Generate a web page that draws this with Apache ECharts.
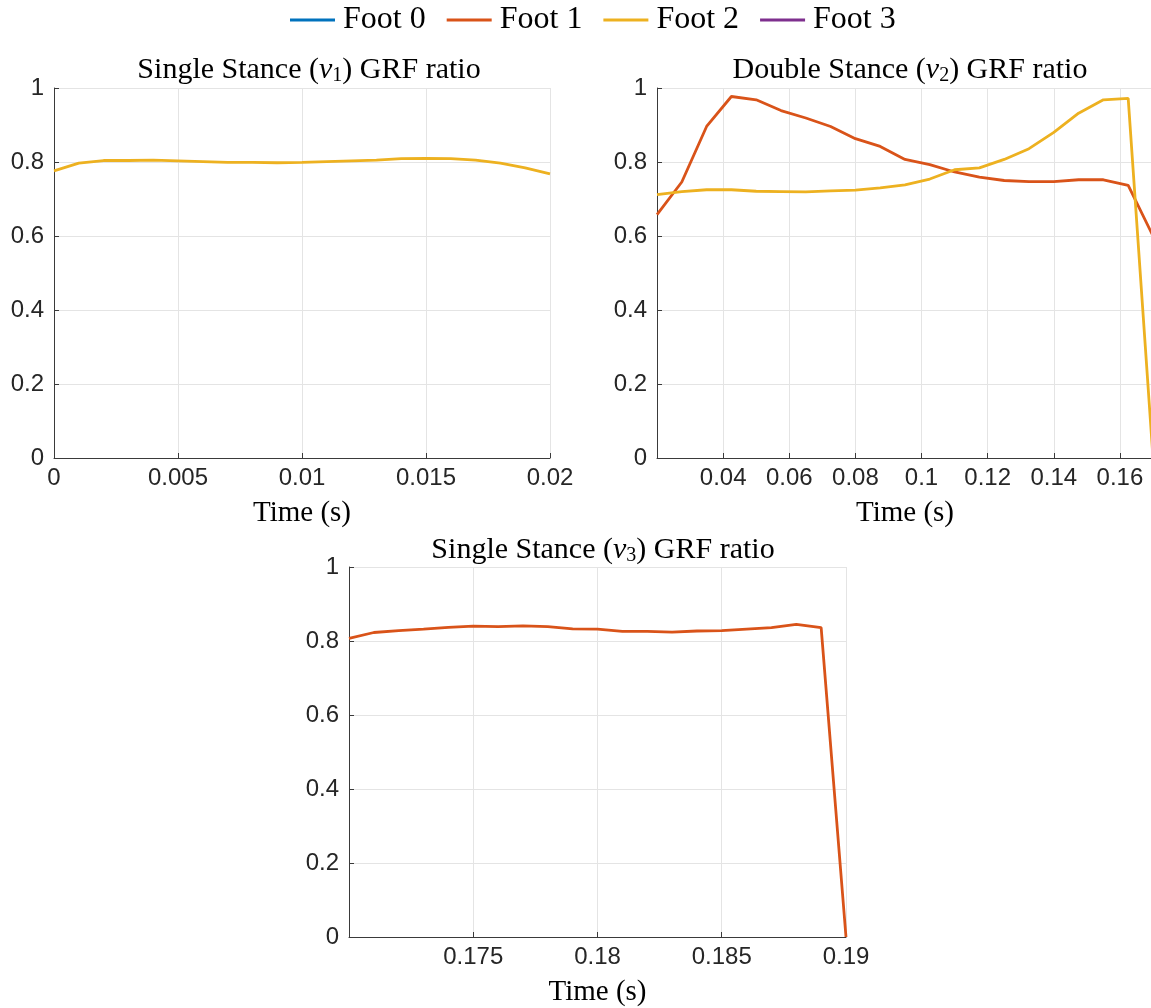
<!DOCTYPE html>
<html>
<head>
<meta charset="utf-8">
<script src="https://cdn.jsdelivr.net/npm/echarts@6/dist/echarts.min.js"></script>
<style>
  html, body { margin: 0; padding: 0; background: #fff; }
  #chart { width: 1151px; height: 1008px; }
</style>
</head>
<body>
<div id="chart"></div>
<script>
// ---- data ----
const footNames = ['Foot 0', 'Foot 1', 'Foot 2', 'Foot 3'];
const footColors = ['#0072BD', '#D95319', '#EDB120', '#7E2F8E'];

// Single stance v1
const timeV1 = [0, 0.001, 0.002, 0.003, 0.004, 0.005, 0.006, 0.007, 0.008, 0.009, 0.010,
                0.011, 0.012, 0.013, 0.014, 0.015, 0.016, 0.017, 0.018, 0.019, 0.020];
const foot2V1 = [0.776, 0.797, 0.804, 0.804, 0.805, 0.803, 0.801, 0.799, 0.799, 0.798, 0.799,
                 0.801, 0.803, 0.805, 0.809, 0.810, 0.809, 0.805, 0.797, 0.784, 0.768];

// Double stance v2
const timeV2 = [0.02, 0.0275, 0.035, 0.0425, 0.05, 0.0575, 0.065, 0.0725, 0.08, 0.0875, 0.095,
                0.1025, 0.11, 0.1175, 0.125, 0.1325, 0.14, 0.1475, 0.155, 0.1625, 0.17];
const foot1V2 = [0.658, 0.746, 0.896, 0.977, 0.968, 0.939, 0.919, 0.896, 0.863, 0.842, 0.807,
                 0.793, 0.773, 0.759, 0.750, 0.747, 0.747, 0.752, 0.752, 0.737, 0.600];
const foot2V2 = [0.712, 0.720, 0.725, 0.725, 0.721, 0.720, 0.719, 0.722, 0.724, 0.730, 0.738,
                 0.754, 0.779, 0.784, 0.807, 0.836, 0.880, 0.932, 0.968, 0.972, 0.000];

// Single stance v3
const timeV3 = [0.170, 0.171, 0.172, 0.173, 0.174, 0.175, 0.176, 0.177, 0.178, 0.179, 0.180,
                0.181, 0.182, 0.183, 0.184, 0.185, 0.186, 0.187, 0.188, 0.189, 0.190];
const foot1V3 = [0.807, 0.823, 0.828, 0.832, 0.837, 0.840, 0.839, 0.841, 0.839, 0.833, 0.832,
                 0.826, 0.826, 0.824, 0.827, 0.828, 0.832, 0.836, 0.845, 0.836, 0.000];

const yTicks = [0, 0.2, 0.4, 0.6, 0.8, 1];

// ---- styling helpers ----
const SERIF = '"Liberation Serif", "Times New Roman", serif';
const SANS = '"Liberation Sans", Arial, Helvetica, sans-serif';
const AXIS_COLOR = '#3a3a3a';
const GRID_COLOR = '#e4e4e4';

function pair(xs, ys) { return xs.map((x, i) => [x, ys[i]]); }

function fmt(v) { return String(+v.toFixed(4)); }

function xAxisDef(gridIndex, min, max, interval, hidden) {
  return {
    type: 'value', gridIndex, min, max, interval,
    name: 'Time (s)', nameLocation: 'middle', nameGap: 41,
    nameTextStyle: { fontFamily: SERIF, fontSize: 29, color: '#000' },
    axisLine: { show: true, onZero: false, lineStyle: { color: AXIS_COLOR, width: 1 } },
    axisTick: { show: true, inside: true, length: 5, lineStyle: { color: AXIS_COLOR } },
    splitLine: { show: true, lineStyle: { color: GRID_COLOR, width: 1 } },
    axisLabel: {
      fontFamily: SANS, fontSize: 24, color: '#262626', margin: 8,
      showMinLabel: true, showMaxLabel: true,
      formatter: v => hidden.some(h => Math.abs(h - v) < 1e-9) ? '' : fmt(v)
    }
  };
}

function yAxisDef(gridIndex) {
  return {
    type: 'value', gridIndex, min: yTicks[0], max: yTicks[yTicks.length - 1], interval: 0.2,
    axisLine: { show: true, onZero: false, lineStyle: { color: AXIS_COLOR, width: 1 } },
    axisTick: { show: true, inside: true, length: 5, lineStyle: { color: AXIS_COLOR } },
    splitLine: { show: true, lineStyle: { color: GRID_COLOR, width: 1 } },
    axisLabel: {
      fontFamily: SANS, fontSize: 24, color: '#262626', margin: 10,
      showMinLabel: true, showMaxLabel: true,
      formatter: v => fmt(v)
    }
  };
}

function titleDef(label, sub, centerX, top) {
  return {
    text: '{a|' + label + ' (}{v|v}{s|' + sub + '}{a|) GRF ratio}',
    left: centerX, top, textAlign: 'center',
    textStyle: {
      fontFamily: SERIF, fontSize: 30, fontWeight: 'normal', color: '#000',
      rich: {
        a: { fontFamily: SERIF, fontSize: 30, color: '#000' },
        v: { fontFamily: SERIF, fontSize: 30, fontStyle: 'italic', color: '#000' },
        s: { fontFamily: SERIF, fontSize: 20, color: '#000', padding: [12, 0, 0, 0] }
      }
    }
  };
}

function lineSeries(name, xi, pts) {
  const c = footColors[footNames.indexOf(name)];
  return {
    type: 'line', name, xAxisIndex: xi, yAxisIndex: xi, data: pts,
    showSymbol: false, symbol: 'none', clip: true,
    lineStyle: { color: c, width: 2.8 }, itemStyle: { color: c }
  };
}

const chart = echarts.init(document.getElementById('chart'), null, { renderer: 'canvas' });

chart.setOption({
  animation: false,
  backgroundColor: '#fff',
  title: [
    titleDef('Single Stance', '1', 304, 49),
    titleDef('Double Stance', '2', 905, 49),
    titleDef('Single Stance', '3', 598, 529)
  ],
  legend: {
    data: footNames, left: 290, top: 4, padding: 0,
    icon: 'rect', itemWidth: 45, itemHeight: 3, itemGap: 21,
    textStyle: { fontFamily: SERIF, fontSize: 32, color: '#000', padding: [0, 0, 0, 3] }
  },
  grid: [
    { left: 54, top: 88, width: 496, height: 370, outerBoundsMode: 'none' },
    { left: 657, top: 88, width: 496, height: 370, outerBoundsMode: 'none' },
    { left: 349, top: 567, width: 497, height: 370, outerBoundsMode: 'none' }
  ],
  xAxis: [
    xAxisDef(0, 0, 0.02, 0.005, []),
    xAxisDef(1, 0.02, 0.17, 0.02, [0.02, 0.17]),
    xAxisDef(2, 0.17, 0.19, 0.005, [0.17])
  ],
  yAxis: [yAxisDef(0), yAxisDef(1), yAxisDef(2)],
  series: [
    lineSeries('Foot 0', 0, []),
    lineSeries('Foot 2', 0, pair(timeV1, foot2V1)),
    lineSeries('Foot 1', 1, pair(timeV2, foot1V2)),
    lineSeries('Foot 2', 1, pair(timeV2, foot2V2)),
    lineSeries('Foot 1', 2, pair(timeV3, foot1V3)),
    lineSeries('Foot 3', 2, [])
  ]
});
</script>
</body>
</html>
